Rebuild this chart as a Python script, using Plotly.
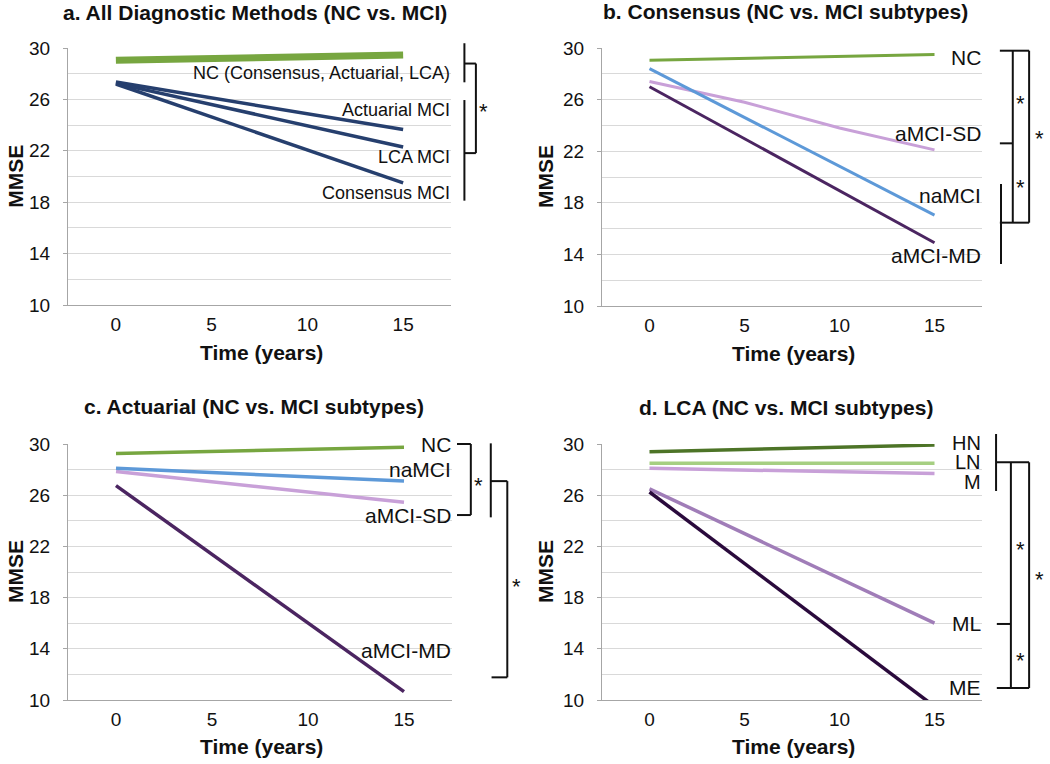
import plotly.graph_objects as go

# ---- data (MMSE by years of follow-up) ----
YEARS = [0, 15]
YEARS_ALL = [0, 5, 10, 15]
X_TICKS = [0, 5, 10, 15]
Y_TICKS = [10, 14, 18, 22, 26, 30]
Y_RANGE = [10, 30]
X_RANGE = [-2.5, 17.5]

# a. all diagnostic methods
a_nc = [29.05, 29.45]
a_actuarial_mci = [27.35, 23.65]
a_lca_mci = [27.25, 22.3]
a_consensus_mci = [27.2, 19.5]

# b. consensus
b_nc = [29.05, 29.5]
b_namci = [28.4, 17.05]
b_amci_sd = [27.4, 25.8, 23.8, 22.1]
b_amci_md = [27.0, 14.9]

# c. actuarial
c_nc = [29.25, 29.75]
c_namci = [28.1, 27.1]
c_amci_sd = [27.85, 25.45]
c_amci_md = [26.75, 10.65]

# d. LCA
d_hn = [29.4, 29.92]
d_ln = [28.5, 28.5]
d_m = [28.1, 27.7]
d_ml = [26.5, 16.0]
d_me = [26.25, 9.5]

TITLES = [
    "a. All Diagnostic Methods (NC vs. MCI)",
    "b. Consensus (NC vs. MCI subtypes)",
    "c. Actuarial (NC vs. MCI subtypes)",
    "d. LCA (NC vs. MCI subtypes)",
]

GREEN = "#77a640"
NAVY = "#263f6e"
BLUE = "#5d99d8"
LILAC = "#c8a0d8"
PLUM = "#4b2561"
DARK_GREEN = "#4d7427"
LIGHT_GREEN = "#a6cf82"
MAUVE = "#a07db8"
AUBERGINE = "#2a0a3c"

FONT = "Liberation Sans, Arial, Helvetica, sans-serif"
INK = "#111111"

W, H = 1050, 764
X_DOM = {1: [68, 451], 2: [602, 982], 3: [68, 452], 4: [602, 982]}
Y_DOM = {1: [48, 305], 2: [48, 306], 3: [444, 700], 4: [444, 700]}


def sfx(n):
    return "" if n == 1 else str(n)


def yd(v):
    """MMSE value -> fraction of the y domain."""
    return (v - Y_RANGE[0]) / (Y_RANGE[1] - Y_RANGE[0])


fig = go.Figure()


def line(n, x, y, color, width):
    fig.add_trace(
        go.Scatter(
            x=x, y=y, mode="lines", xaxis="x" + sfx(n), yaxis="y" + sfx(n),
            line=dict(color=color, width=width), showlegend=False, hoverinfo="skip",
        )
    )


line(1, YEARS, a_nc, GREEN, 7)
line(1, YEARS, a_actuarial_mci, NAVY, 3.5)
line(1, YEARS, a_lca_mci, NAVY, 3.5)
line(1, YEARS, a_consensus_mci, NAVY, 3.5)

line(2, YEARS, b_nc, GREEN, 3)
line(2, YEARS_ALL, b_amci_sd, LILAC, 3)
line(2, YEARS, b_namci, BLUE, 3)
line(2, YEARS, b_amci_md, PLUM, 3)

line(3, YEARS, c_nc, GREEN, 3.5)
line(3, YEARS, c_amci_sd, LILAC, 3.5)
line(3, YEARS, c_namci, BLUE, 3.5)
line(3, YEARS, c_amci_md, PLUM, 3.5)

line(4, YEARS, d_hn, DARK_GREEN, 3.5)
line(4, YEARS, d_ln, LIGHT_GREEN, 3.5)
line(4, YEARS, d_m, LILAC, 3.5)
line(4, YEARS, d_ml, MAUVE, 3.5)
line(4, YEARS, d_me, AUBERGINE, 3.5)

layout = {}
for n in range(1, 5):
    xd = [X_DOM[n][0] / W, X_DOM[n][1] / W]
    ydom = [1 - Y_DOM[n][1] / H, 1 - Y_DOM[n][0] / H]
    layout["xaxis" + sfx(n)] = dict(
        domain=xd, anchor="y" + sfx(n), range=X_RANGE, tickvals=X_TICKS,
        showgrid=False, zeroline=False, showline=True, linecolor="#a6a6a6",
        linewidth=1, tickfont=dict(size=19, color=INK), ticklabelstandoff=2,
        automargin=False, fixedrange=True,
    )
    layout["yaxis" + sfx(n)] = dict(
        domain=ydom, anchor="x" + sfx(n), range=Y_RANGE, tickvals=Y_TICKS,
        showgrid=True, gridcolor="#d9d9d9", gridwidth=1, zeroline=False,
        showline=True, linecolor="#a6a6a6", linewidth=1,
        ticks="outside", ticklen=4, tickcolor="#a6a6a6", ticklabelstandoff=9,
        minor=dict(dtick=2, tick0=10, showgrid=True, gridcolor="#d9d9d9", gridwidth=1),
        tickfont=dict(size=19, color=INK), automargin=False, fixedrange=True,
    )
fig.update_layout(**layout)


def note(n, x, y, text, size=21, xanchor="right", bold=False, angle=0):
    fig.add_annotation(
        xref="x" + sfx(n) + " domain", yref="y" + sfx(n) + " domain",
        x=x, y=y, text=f"<b>{text}</b>" if bold else text, showarrow=False,
        xanchor=xanchor, yanchor="middle", textangle=angle, borderpad=0,
        font=dict(size=size, color=INK, family=FONT),
    )


# titles and axis titles
title_y = {1: 1.14, 2: 1.14, 3: 1.145, 4: 1.142}
title_x = {1: 0.488, 2: 0.484, 3: 0.484, 4: 0.484}
ylab_x = {1: -0.138, 2: -0.15, 3: -0.138, 4: -0.15}
for n in range(1, 5):
    note(n, title_x[n], title_y[n], TITLES[n - 1], size=21, xanchor="center", bold=True)
    note(n, ylab_x[n], 0.5, "MMSE", size=21, xanchor="center", bold=True, angle=-90)
    note(n, 0.505, -0.183, "Time (years)", size=21, xanchor="center", bold=True)

# series labels
note(1, 1.0, yd(28.05), "NC (Consensus, Actuarial, LCA)", size=18)
note(1, 1.0, yd(25.2), "Actuarial MCI", size=18)
note(1, 1.0, yd(21.5), "LCA MCI", size=18)
note(1, 1.0, yd(18.7), "Consensus MCI", size=18)

note(2, 1.0, yd(29.3), "NC")
note(2, 1.0, yd(23.4), "aMCI-SD")
note(2, 1.0, yd(18.6), "naMCI")
note(2, 1.0, yd(13.95), "aMCI-MD")

note(3, 1.0, yd(30.0), "NC")
note(3, 1.0, yd(28.0), "naMCI")
note(3, 1.0, yd(24.4), "aMCI-SD")
note(3, 1.0, yd(13.9), "aMCI-MD")

note(4, 1.0, yd(30.05), "HN", size=20)
note(4, 1.0, yd(28.6), "LN", size=20)
note(4, 1.0, yd(27.0), "M", size=20)
note(4, 1.0, yd(15.96), "ML")
note(4, 1.0, yd(10.94), "ME")


# significance brackets
def seg(n, x0, v0, x1, v1):
    fig.add_shape(
        type="line", xref="x" + sfx(n) + " domain", yref="y" + sfx(n) + " domain",
        x0=x0, y0=yd(v0), x1=x1, y1=yd(v1), line=dict(color=INK, width=2),
    )


def star(n, x, v):
    # the asterisk glyph sits high in its text box, so drop the box a little
    note(n, x, yd(v - 0.3), "*", size=22, xanchor="center")


# a
seg(1, 1.035, 30.37, 1.035, 27.33)
seg(1, 1.035, 25.95, 1.035, 18.12)
seg(1, 1.035, 28.79, 1.065, 28.79)
seg(1, 1.065, 28.79, 1.065, 21.82)
seg(1, 1.065, 21.82, 1.035, 21.82)
star(1, 1.086, 25.33)

# b
seg(2, 1.047, 29.79, 1.124, 29.79)
seg(2, 1.081, 29.79, 1.081, 16.46)
seg(2, 1.124, 29.79, 1.124, 16.46)
seg(2, 1.047, 16.46, 1.124, 16.46)
seg(2, 1.047, 22.61, 1.081, 22.61)
seg(2, 1.05, 19.46, 1.05, 13.26)
star(2, 1.10, 25.97)
star(2, 1.10, 19.46)
star(2, 1.15, 23.26)

# c
seg(3, 1.013, 30.0, 1.049, 30.0)
seg(3, 1.049, 30.0, 1.049, 24.45)
seg(3, 1.049, 24.45, 1.013, 24.45)
star(3, 1.07, 27.05)
seg(3, 1.101, 30.05, 1.101, 24.27)
seg(3, 1.101, 27.1, 1.144, 27.1)
seg(3, 1.144, 27.1, 1.144, 11.77)
seg(3, 1.144, 11.77, 1.103, 11.77)
star(3, 1.167, 19.14)

# d
seg(4, 1.037, 30.78, 1.037, 26.33)
seg(4, 1.037, 28.57, 1.124, 28.57)
seg(4, 1.076, 28.57, 1.076, 10.94)
seg(4, 1.124, 28.57, 1.124, 10.94)
seg(4, 1.039, 15.94, 1.076, 15.94)
seg(4, 1.039, 10.94, 1.124, 10.94)
star(4, 1.10, 22.03)
star(4, 1.10, 13.36)
star(4, 1.15, 19.69)

fig.update_layout(
    width=W, height=H, margin=dict(l=0, r=0, t=0, b=0, autoexpand=False),
    paper_bgcolor="white", plot_bgcolor="white",
    font=dict(family=FONT, color=INK),
)

# drop the browser's default 8px body margin so the figure sits at the page corner
fig.write_html(
    "out.html",
    config={"displayModeBar": False},
    post_script="document.body.style.margin = '0';",
)
